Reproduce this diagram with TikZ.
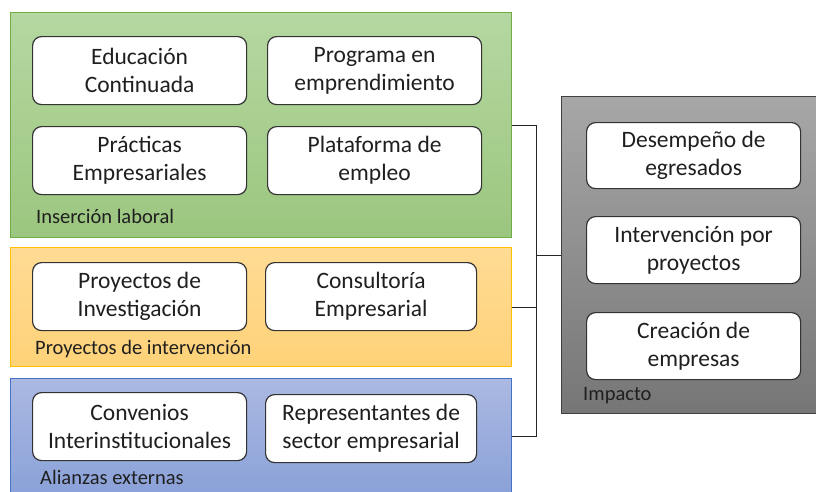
\documentclass[tikz,border=0pt]{standalone}
\usepackage{fontspec}
\setmainfont{Carlito}
\definecolor{txtgray}{HTML}{1F1F1F}
\definecolor{greenline}{HTML}{70AD47}
\definecolor{orangeline}{HTML}{FFC000}
\definecolor{blueline}{HTML}{4472C4}
\begin{document}
\begin{tikzpicture}[x=1pt,y=-1pt,
	item/.style={draw=black!80, line width=1.2pt, rounded corners=9pt, fill=white,
		minimum width=214pt, minimum height=68pt, anchor=north west,
		align=center, text=txtgray, font=\fontsize{23.5}{28}\selectfont},
	group/.style={line width=1pt, anchor=north west, inner sep=0pt},
	grouplabel/.style={anchor=west, inner sep=0pt, text=txtgray, font=\fontsize{20.5}{22}\selectfont}]
	\useasboundingbox (0,0) rectangle (816,491);

	% group boxes
	\node[group, draw=greenline, top color={rgb,255:red,181;green,215;blue,161}, bottom color={rgb,255:red,155;green,198;blue,127},
		minimum width=501pt, minimum height=225pt] (insercion) at (10,12) {};
	\node[group, draw=orangeline, top color={rgb,255:red,255;green,219;blue,148}, bottom color={rgb,255:red,255;green,210;blue,120},
		minimum width=501pt, minimum height=119pt] (intervencion) at (10,247) {};
	\node[group, draw=blueline, top color={rgb,255:red,171;green,185;blue,226}, bottom color={rgb,255:red,138;green,161;blue,216},
		minimum width=501pt, minimum height=116pt] (alianzas) at (10,378) {};
	\node[group, draw=black!75, top color={rgb,255:red,167;green,167;blue,167}, bottom color={rgb,255:red,118;green,118;blue,118},
		minimum width=270pt, minimum height=317pt] (impacto) at (561,96) {};

	% items in Insercion laboral
	\node[item] (educacion) at (32,36) {Educación\\Continuada};
	\node[item] (programa) at (267,36) {Programa en\\emprendimiento};
	\node[item] (practicas) at (32,126) {Prácticas\\Empresariales};
	\node[item] (plataforma) at (267,126) {Plataforma de\\empleo};

	% items in Proyectos de intervencion
	\node[item] (investigacion) at (32,262) {Proyectos de\\Investigación};
	\node[item, minimum width=211pt] (consultoria) at (265,262) {Consultoría\\Empresarial};

	% items in Alianzas externas
	\node[item] (convenios) at (32,392) {Convenios\\Interinstitucionales};
	\node[item, minimum width=211pt] (representantes) at (265,394) {Representantes de\\sector empresarial};

	% items in Impacto
	\node[item, minimum height=66pt] (desempeno) at (586,122) {Desempeño de\\egresados};
	\node[item, minimum height=67pt] (interv) at (586,216) {Intervención por\\proyectos};
	\node[item, minimum height=67pt] (creacion) at (586,312) {Creación de\\empresas};

	% group labels
	\node[grouplabel] (lbinsercion) at (36,216) {Inserción laboral};
	\node[grouplabel] (lbintervencion) at (35,349) {Proyectos de intervención};
	\node[grouplabel] (lbalianzas) at (40,477) {Alianzas externas};
	\node[grouplabel] (lbimpacto) at (583,396) {Impacto};

	% connectors
	\coordinate (bus) at (536,255);
	\draw[line width=1pt, black!85] (insercion.east) -| (bus |- alianzas.east) -- (alianzas.east);
	\draw[line width=1pt, black!85] (intervencion.east) -- (bus |- intervencion.east);
	\draw[line width=1pt, black!85] (bus) -- (impacto.west);
\end{tikzpicture}
\end{document}
